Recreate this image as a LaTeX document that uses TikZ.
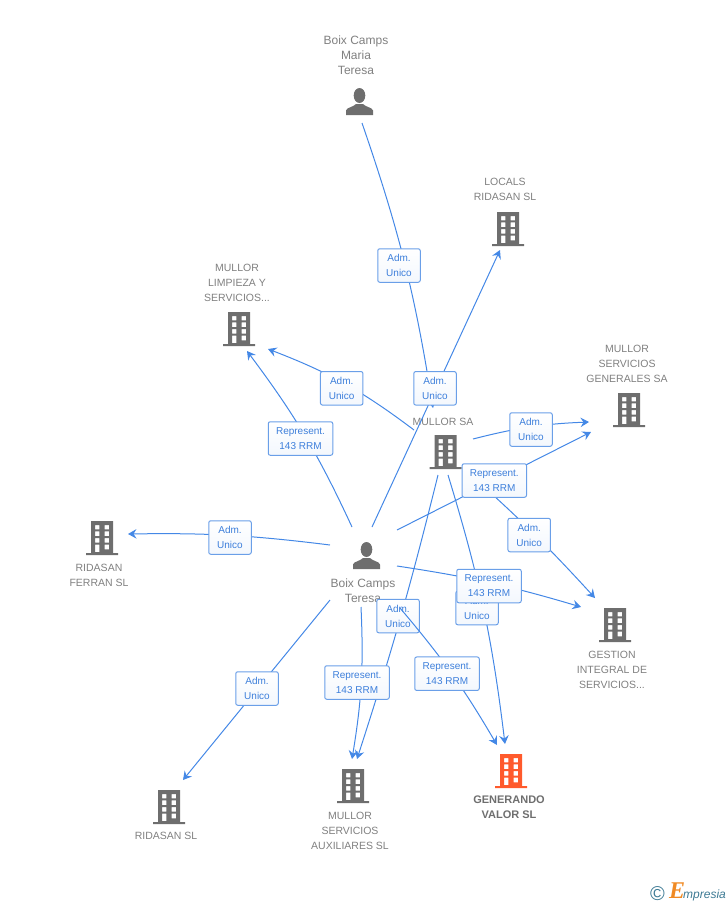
\documentclass[tikz,border=0pt]{standalone}
\usepackage{fontspec}
\setmainfont{Liberation Sans}
\newfontfamily\logoserif{Liberation Serif}
\usetikzlibrary{arrows.meta}
\usetikzlibrary{positioning}

\definecolor{linkblue}{HTML}{4488E6}
\definecolor{boxblue}{HTML}{6A9FE8}
\definecolor{boxtext}{HTML}{3D7FDB}
\definecolor{icongray}{HTML}{6E6E6E}
\definecolor{icontext}{HTML}{808080}
\definecolor{iconorange}{HTML}{FF5A2C}
\definecolor{logoteal}{HTML}{3D7A94}
\definecolor{logoorange}{HTML}{F08A24}

\tikzset{
    building/.pic={
        \path[pic actions,even odd rule]
            (-11,0) rectangle (11,32) (-16,32) rectangle (16,34)
            (-7,4) rectangle (-2.7,8.3) (2.7,4) rectangle (7,8.3)
            (-7,10.3) rectangle (-2.7,15) (2.7,10.3) rectangle (7,15)
            (-7,17) rectangle (-2.7,21.7) (2.7,17) rectangle (7,21.7)
            (-7,23.7) rectangle (-2.7,31) (2.7,23.7) rectangle (7,28.3);
    },
    person/.pic={
        \path[pic actions] (0,7.5) ellipse (5.8 and 7.5);
        \path[pic actions] (-13.5,27) -- (-13.5,22.5) .. controls (-13,19.5) and (-6,19) .. (-3.5,16)
            -- (3.5,16) .. controls (6,19) and (13,19.5) .. (13.5,22.5) -- (13.5,27) -- cycle;
    },
    link/.style={draw=linkblue,line width=1pt,-{Stealth[length=8.5pt,width=9.5pt,inset=3pt]}},
    role/.style={draw=boxblue,line width=1pt,rounded corners=2pt,top color=white,bottom color=white!92!boxblue,
        text=boxtext,align=center,inner sep=0pt,minimum height=33.5pt,font=\fontsize{10}{15}\selectfont},
    adm/.style={role,minimum width=42.5pt},
    rep/.style={role,minimum width=64.5pt},
    iconname/.style={text=icontext,align=center,inner sep=0pt,font=\fontsize{10.5}{15}\selectfont},
    bigname/.style={iconname,font=\fontsize{12}{15}\selectfont},
    mainname/.style={iconname,text=icongray,font=\fontsize{11}{15}\selectfont\bfseries}
}

\begin{document}
\begin{tikzpicture}[x=1pt,y=-1pt]
    \useasboundingbox (0,0) rectangle (728,905);

    % icons
    \foreach \id/\x/\y in {locals/508/212, limpieza/239/312, mullorsa/445.5/435, generales/629/393,
        ferran/102/521, gestion/615/608, auxiliares/353/769, ridasan/169/790}
        \pic[fill=icongray] (\id) at (\x,\y) {building};
    \pic[fill=iconorange] (generando) at (511,754) {building};
    \pic[fill=icongray] (maria) at (359.5,88) {person};
    \pic[fill=icongray] (teresa) at (366.5,542) {person};

    % names
    \node[bigname] (n_maria) at (356,55) {Boix Camps\\Maria\\Teresa};
    \node[iconname] (n_locals) at (505,189.5) {LOCALS\\RIDASAN SL};
    \node[iconname] (n_limpieza) at (237,283) {MULLOR\\LIMPIEZA Y\\SERVICIOS...};
    \node[iconname] (n_mullorsa) at (443,421.5) {MULLOR SA};
    \node[iconname] (n_generales) at (627,364) {MULLOR\\SERVICIOS\\GENERALES SA};
    \node[iconname] (n_ferran) at (99,575.5) {RIDASAN\\FERRAN SL};
    \node[bigname] (n_teresa) at (363,591) {Boix Camps\\Teresa};
    \node[iconname] (n_gestion) at (612,669.5) {GESTION\\INTEGRAL DE\\SERVICIOS...};
    \node[iconname] (n_auxiliares) at (350,830.5) {MULLOR\\SERVICIOS\\AUXILIARES SL};
    \node[mainname] (n_generando) at (509,807) {GENERANDO\\VALOR SL};
    \node[iconname] (n_ridasan) at (166,836) {RIDASAN SL};

    % free ends of the connectors
    \foreach \id/\x/\y in {m_sa/362/123, sa_m/433/408,
        t_lo/372/527, lo_t/500/250,
        t_li/352/527, li_t/247/351,
        s_li/414/430, li_s/268/349,
        t_fe/330/545, fe_t/128/534,
        s_ge/473/439, ge_s/589/422,
        t_ge/397/530, ge_t/591/432,
        s_gs/463/468, gs_s/595/598,
        t_gs/397/566, gs_t/581/607,
        s_gv/448/475, gv_s/505/744,
        s_au/438/475, au_s/357/759,
        t_au/361/607, au_t/352/759,
        t_gv/400/608, gv_t/497/745,
        t_ri/330/600, ri_t/183/780}
        \coordinate (\id) at (\x,\y);

    % connectors and their roles
    \draw[link] (m_sa) to[bend left=5] (sa_m);
    \node[adm] (r_maria) at (399,265.5) {Adm.\\Unico};
    \draw[link] (t_lo) -- (lo_t);
    \node[adm] (r_locals) at (435,388.3) {Adm.\\Unico};
    \draw[link] (t_li) to[bend right=6] (li_t);
    \node[rep] (r_limp) at (300.5,438.5) {Represent.\\143 RRM};
    \draw[link] (s_li) to[bend right=8] (li_s);
    \node[adm] (r_limps) at (341.7,388.3) {Adm.\\Unico};
    \draw[link] (t_fe) to[bend right=4] (fe_t);
    \node[adm] (r_ferran) at (230,537.5) {Adm.\\Unico};
    \draw[link] (s_ge) to[bend left=6] (ge_s);
    \node[adm] (r_gen) at (531,429.5) {Adm.\\Unico};
    \draw[link] (s_gs) to[bend left=3] (gs_s);
    \node[adm] (r_gess) at (529.2,535) {Adm.\\Unico};
    \draw[link] (t_ge) -- (ge_t);
    \node[rep] (r_gent) at (494.3,480.5) {Represent.\\143 RRM};
    \draw[link] (s_gv) to[bend left=5] (gv_s);
    \node[adm] (r_gvs) at (477,608) {Adm.\\Unico};
    \draw[link] (t_gs) to[bend left=4] (gs_t);
    \node[rep] (r_gest) at (489,586) {Represent.\\143 RRM};
    \draw[link] (t_au) to[bend left=6] (au_t);
    \draw[link] (s_au) to[bend left=2] (au_s);
    \node[rep] (r_aut) at (357,682.5) {Represent.\\143 RRM};
    \node[adm] (r_aus) at (398,616) {Adm.\\Unico};
    \draw[link] (t_gv) to[bend left=5] (gv_t);
    \node[rep] (r_gvt) at (447,673.7) {Represent.\\143 RRM};
    \draw[link] (t_ri) -- (ri_t);
    \node[adm] (r_ridasan) at (257,688.5) {Adm.\\Unico};

    % logo
    \node[text=logoteal,inner sep=0pt,font=\fontsize{20}{20}\selectfont] (logo_c) at (657.5,893.5) {\copyright};
    \node[text=logoorange,inner sep=0pt,anchor=base west,font=\fontsize{24}{24}\selectfont\logoserif\itshape\bfseries] (logo_e) at (669,898) {E};
    \node[text=logoteal,inner sep=0pt,anchor=base west,font=\fontsize{12}{12}\selectfont\itshape] (logo_t) at (683,898) {mpresia};
\end{tikzpicture}
\end{document}
